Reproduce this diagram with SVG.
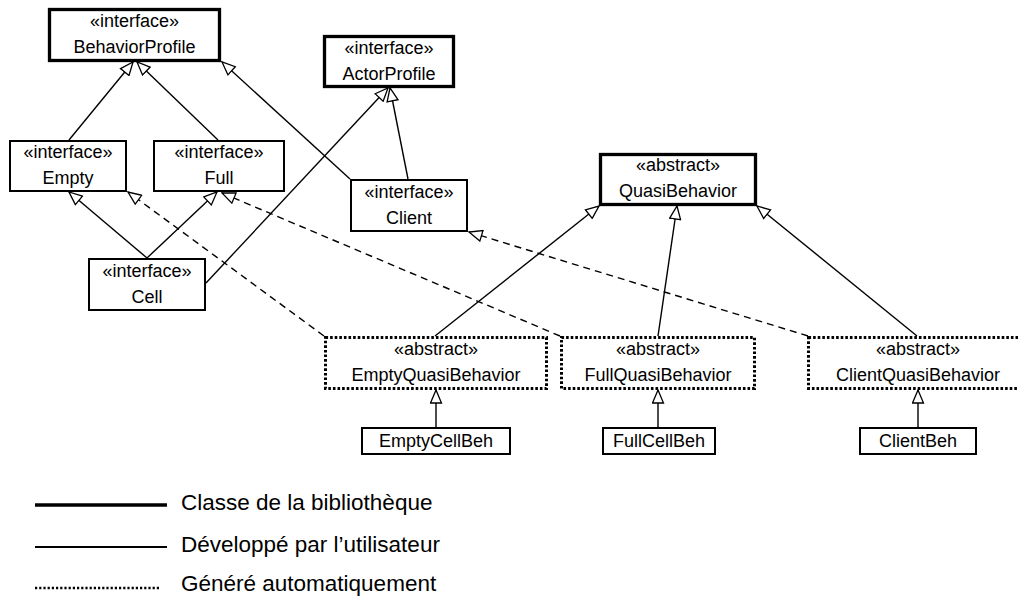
<svg xmlns="http://www.w3.org/2000/svg" width="1018" height="597" viewBox="0 0 1018 597">
<style>
text{font-family:"Liberation Sans",Arial,sans-serif;font-size:18px;fill:#000;text-anchor:middle}
.leg{font-size:22.5px;text-anchor:start}
.lib{fill:#fff;stroke:#000;stroke-width:3.3}
.usr{fill:#fff;stroke:#000;stroke-width:2}
.gen{fill:#fff;stroke:#000;stroke-width:3;stroke-dasharray:2.6 2}
.c{fill:none;stroke:#000;stroke-width:1.4;marker-end:url(#tri)}
.d{stroke-dasharray:7 5}
</style>
<defs>
<marker id="tri" viewBox="0 0 15 13" refX="14" refY="6.5" markerWidth="15" markerHeight="13" markerUnits="userSpaceOnUse" orient="auto">
<path d="M1,1 L14,6.5 L1,12 Z" fill="#fff" stroke="#000" stroke-width="1.3" stroke-dasharray="none"/>
</marker>
</defs>
<rect width="1018" height="597" fill="#fff"/>
<g id="connectors">
<line class="c" x1="69" y1="140" x2="133" y2="62"/>
<line class="c" x1="218" y1="140" x2="137" y2="62"/>
<line class="c" x1="350" y1="179" x2="222" y2="62"/>
<line class="c" x1="408" y1="179" x2="390" y2="88"/>
<line class="c" x1="206" y1="283" x2="388" y2="88"/>
<line class="c" x1="147" y1="258" x2="69" y2="192"/>
<line class="c" x1="147" y1="258" x2="217" y2="192"/>
<line class="c d" x1="324" y1="336" x2="128" y2="192"/>
<line class="c d" x1="560" y1="336" x2="222" y2="193"/>
<line class="c d" x1="808" y1="336" x2="469" y2="232"/>
<line class="c" x1="435" y1="336" x2="599" y2="206"/>
<line class="c" x1="658" y1="336" x2="677" y2="206"/>
<line class="c" x1="917" y1="336" x2="757" y2="206"/>
<line class="c" x1="436" y1="427" x2="436" y2="390"/>
<line class="c" x1="658" y1="427" x2="658" y2="390"/>
<line class="c" x1="918" y1="427" x2="918" y2="390"/>
</g>
<g id="BehaviorProfile"><rect class="lib" x="49.5" y="9.5" width="170" height="51"/><text x="134.5" y="27">«interface»</text><text x="134.5" y="53">BehaviorProfile</text></g>
<g id="ActorProfile"><rect class="lib" x="324.5" y="36.5" width="129" height="50"/><text x="389" y="53.5">«interface»</text><text x="389" y="79.5">ActorProfile</text></g>
<g id="Empty"><rect class="usr" x="10" y="141" width="116" height="50"/><text x="68" y="158">«interface»</text><text x="68" y="184">Empty</text></g>
<g id="Full"><rect class="usr" x="154" y="141" width="130" height="50"/><text x="219" y="158">«interface»</text><text x="219" y="184">Full</text></g>
<g id="Client"><rect class="usr" x="351" y="180" width="116" height="51"/><text x="409" y="197.5">«interface»</text><text x="409" y="223.5">Client</text></g>
<g id="Cell"><rect class="usr" x="89" y="259" width="116" height="51"/><text x="147" y="276.5">«interface»</text><text x="147" y="302.5">Cell</text></g>
<g id="QuasiBehavior"><rect class="lib" x="600.5" y="154.5" width="155" height="50"/><text x="678" y="170.5">«abstract»</text><text x="678" y="197">QuasiBehavior</text></g>
<g id="EmptyQuasiBehavior"><rect class="gen" x="325.5" y="337.5" width="221" height="51"/><text x="436" y="354.5">«abstract»</text><text x="436" y="381">EmptyQuasiBehavior</text></g>
<g id="FullQuasiBehavior"><rect class="gen" x="561.5" y="337.5" width="193" height="51"/><text x="658" y="354.5">«abstract»</text><text x="658" y="381">FullQuasiBehavior</text></g>
<g id="ClientQuasiBehavior"><rect class="gen" x="808.5" y="337.5" width="219" height="51"/><text x="918" y="354.5">«abstract»</text><text x="918" y="381">ClientQuasiBehavior</text></g>
<g id="EmptyCellBeh"><rect class="usr" x="362" y="428" width="148" height="26"/><text x="436" y="447">EmptyCellBeh</text></g>
<g id="FullCellBeh"><rect class="usr" x="603" y="428" width="112" height="26"/><text x="659" y="447">FullCellBeh</text></g>
<g id="ClientBeh"><rect class="usr" x="860" y="428" width="116" height="26"/><text x="918" y="447">ClientBeh</text></g>
<g id="legend">
<line x1="35" y1="505" x2="167" y2="505" stroke="#000" stroke-width="3.3"/>
<text class="leg" x="181" y="510">Classe de la bibliothèque</text>
<line x1="35" y1="547" x2="167" y2="547" stroke="#000" stroke-width="2"/>
<text class="leg" x="181" y="552">Développé par l’utilisateur</text>
<line x1="35" y1="588" x2="160" y2="588" stroke="#000" stroke-width="2.6" stroke-dasharray="2.2 2"/>
<text class="leg" x="181" y="591">Généré automatiquement</text>
</g>
</svg>
